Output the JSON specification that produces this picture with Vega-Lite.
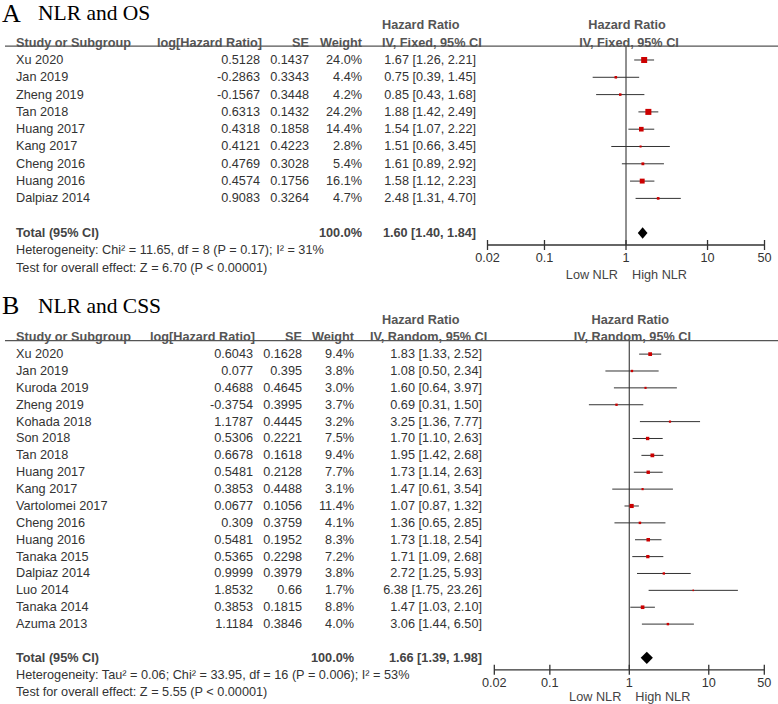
{
"$schema": "https://vega.github.io/schema/vega-lite/v6.json",
"padding": 0,
"spacing": 8,
"bounds": "full",
"config": {"view": {"stroke": null}, "axis": {"disable": true}, "legend": {"disable": true}, "text": {"font": "Liberation Sans", "fontSize": 12.7, "color": "#333"}},
"datasets": {
"A_studies": [
{"study":"Xu 2020","loghr":0.5128,"se":0.1437,"weight":0.240,"hr":1.67,"lo":1.26,"hi":2.21,"ci":"1.67 [1.26, 2.21]","row":0},
{"study":"Jan 2019","loghr":-0.2863,"se":0.3343,"weight":0.044,"hr":0.75,"lo":0.39,"hi":1.45,"ci":"0.75 [0.39, 1.45]","row":1},
{"study":"Zheng 2019","loghr":-0.1567,"se":0.3448,"weight":0.042,"hr":0.85,"lo":0.43,"hi":1.68,"ci":"0.85 [0.43, 1.68]","row":2},
{"study":"Tan 2018","loghr":0.6313,"se":0.1432,"weight":0.242,"hr":1.88,"lo":1.42,"hi":2.49,"ci":"1.88 [1.42, 2.49]","row":3},
{"study":"Huang 2017","loghr":0.4318,"se":0.1858,"weight":0.144,"hr":1.54,"lo":1.07,"hi":2.22,"ci":"1.54 [1.07, 2.22]","row":4},
{"study":"Kang 2017","loghr":0.4121,"se":0.4223,"weight":0.028,"hr":1.51,"lo":0.66,"hi":3.45,"ci":"1.51 [0.66, 3.45]","row":5},
{"study":"Cheng 2016","loghr":0.4769,"se":0.3028,"weight":0.054,"hr":1.61,"lo":0.89,"hi":2.92,"ci":"1.61 [0.89, 2.92]","row":6},
{"study":"Huang 2016","loghr":0.4574,"se":0.1756,"weight":0.161,"hr":1.58,"lo":1.12,"hi":2.23,"ci":"1.58 [1.12, 2.23]","row":7},
{"study":"Dalpiaz 2014","loghr":0.9083,"se":0.3264,"weight":0.047,"hr":2.48,"lo":1.31,"hi":4.70,"ci":"2.48 [1.31, 4.70]","row":8}
],
"A_total": [{"label":"Total (95% CI)","weight":1.0,"hr":1.60,"lo":1.40,"hi":1.84,"ci":"1.60 [1.40, 1.84]","row":10}],
"A_notes": [
{"text":"Heterogeneity: Chi² = 11.65, df = 8 (P = 0.17); I² = 31%","row":11},
{"text":"Test for overall effect: Z = 6.70 (P < 0.00001)","row":12}
],
"B_studies": [
{"study":"Xu 2020","loghr":0.6043,"se":0.1628,"weight":0.094,"hr":1.83,"lo":1.33,"hi":2.52,"ci":"1.83 [1.33, 2.52]","row":0},
{"study":"Jan 2019","loghr":0.077,"se":0.395,"weight":0.038,"hr":1.08,"lo":0.50,"hi":2.34,"ci":"1.08 [0.50, 2.34]","row":1},
{"study":"Kuroda 2019","loghr":0.4688,"se":0.4645,"weight":0.030,"hr":1.60,"lo":0.64,"hi":3.97,"ci":"1.60 [0.64, 3.97]","row":2},
{"study":"Zheng 2019","loghr":-0.3754,"se":0.3995,"weight":0.037,"hr":0.69,"lo":0.31,"hi":1.50,"ci":"0.69 [0.31, 1.50]","row":3},
{"study":"Kohada 2018","loghr":1.1787,"se":0.4445,"weight":0.032,"hr":3.25,"lo":1.36,"hi":7.77,"ci":"3.25 [1.36, 7.77]","row":4},
{"study":"Son 2018","loghr":0.5306,"se":0.2221,"weight":0.075,"hr":1.70,"lo":1.10,"hi":2.63,"ci":"1.70 [1.10, 2.63]","row":5},
{"study":"Tan 2018","loghr":0.6678,"se":0.1618,"weight":0.094,"hr":1.95,"lo":1.42,"hi":2.68,"ci":"1.95 [1.42, 2.68]","row":6},
{"study":"Huang 2017","loghr":0.5481,"se":0.2128,"weight":0.077,"hr":1.73,"lo":1.14,"hi":2.63,"ci":"1.73 [1.14, 2.63]","row":7},
{"study":"Kang 2017","loghr":0.3853,"se":0.4488,"weight":0.031,"hr":1.47,"lo":0.61,"hi":3.54,"ci":"1.47 [0.61, 3.54]","row":8},
{"study":"Vartolomei 2017","loghr":0.0677,"se":0.1056,"weight":0.114,"hr":1.07,"lo":0.87,"hi":1.32,"ci":"1.07 [0.87, 1.32]","row":9},
{"study":"Cheng 2016","loghr":0.309,"se":0.3759,"weight":0.041,"hr":1.36,"lo":0.65,"hi":2.85,"ci":"1.36 [0.65, 2.85]","row":10},
{"study":"Huang 2016","loghr":0.5481,"se":0.1952,"weight":0.083,"hr":1.73,"lo":1.18,"hi":2.54,"ci":"1.73 [1.18, 2.54]","row":11},
{"study":"Tanaka 2015","loghr":0.5365,"se":0.2298,"weight":0.072,"hr":1.71,"lo":1.09,"hi":2.68,"ci":"1.71 [1.09, 2.68]","row":12},
{"study":"Dalpiaz 2014","loghr":0.9999,"se":0.3979,"weight":0.038,"hr":2.72,"lo":1.25,"hi":5.93,"ci":"2.72 [1.25, 5.93]","row":13},
{"study":"Luo 2014","loghr":1.8532,"se":0.66,"weight":0.017,"hr":6.38,"lo":1.75,"hi":23.26,"ci":"6.38 [1.75, 23.26]","row":14},
{"study":"Tanaka 2014","loghr":0.3853,"se":0.1815,"weight":0.088,"hr":1.47,"lo":1.03,"hi":2.10,"ci":"1.47 [1.03, 2.10]","row":15},
{"study":"Azuma 2013","loghr":1.1184,"se":0.3846,"weight":0.040,"hr":3.06,"lo":1.44,"hi":6.50,"ci":"3.06 [1.44, 6.50]","row":16}
],
"B_total": [{"label":"Total (95% CI)","weight":1.0,"hr":1.66,"lo":1.39,"hi":1.98,"ci":"1.66 [1.39, 1.98]","row":18}],
"B_notes": [
{"text":"Heterogeneity: Tau² = 0.06; Chi² = 33.95, df = 16 (P = 0.006); I² = 53%","row":19},
{"text":"Test for overall effect: Z = 5.55 (P < 0.00001)","row":20}
],
"ticks": [{"t":0.02,"lab":"0.02"},{"t":0.1,"lab":"0.1"},{"t":1,"lab":"1"},{"t":10,"lab":"10"},{"t":50,"lab":"50"}]
},
"vconcat": [
{"spacing": 0, "bounds": "flush", "hconcat": [
 {"width": 150, "height": 245, "layer": [
  {"data":{"values":[{}]},"mark":{"type":"rule","color":"#555","strokeWidth":1.2},"encoding":{"x":{"datum":0.0333,"type":"quantitative","scale":{"domain":[0,1],"nice":false,"zero":false}},"x2":{"datum":1},"y":{"datum":-0.8,"type":"quantitative","scale":{"domain":[-3.468,10.694],"reverse":true,"nice":false,"zero":false}}}},
  {"data":{"values":[{}]},"mark":{"type":"text","font":"Liberation Serif","fontSize":26,"color":"#000","align":"left","baseline":"alphabetic","dx":2},"encoding":{"x":{"datum":0,"type":"quantitative","scale":{"domain":[0,1],"nice":false,"zero":false}},"y":{"datum":-2.225,"type":"quantitative","scale":{"domain":[-3.468,10.694],"reverse":true,"nice":false,"zero":false}},"text":{"value":"A"}}},
  {"data":{"values":[{}]},"mark":{"type":"text","font":"Liberation Serif","fontSize":21.5,"color":"#000","align":"left","baseline":"alphabetic","dx":38},"encoding":{"x":{"datum":0,"type":"quantitative","scale":{"domain":[0,1],"nice":false,"zero":false}},"y":{"datum":-2.3,"type":"quantitative","scale":{"domain":[-3.468,10.694],"reverse":true,"nice":false,"zero":false}},"text":{"value":"NLR and OS"}}},
  {"data":{"values":[{}]},"mark":{"type":"text","fontWeight":"bold","color":"#555","align":"left","dx":16},"encoding":{"x":{"datum":0,"type":"quantitative","scale":{"domain":[0,1],"nice":false,"zero":false}},"y":{"datum":-1,"type":"quantitative","scale":{"domain":[-3.468,10.694],"reverse":true,"nice":false,"zero":false}},"text":{"value":"Study or Subgroup"}}},
  {"data":{"name":"A_studies"},"mark":{"type":"text","align":"left","dx":16},"encoding":{"x":{"datum":0,"type":"quantitative","scale":{"domain":[0,1],"nice":false,"zero":false}},"y":{"field":"row","type":"quantitative","scale":{"domain":[-3.468,10.694],"reverse":true,"nice":false,"zero":false}},"text":{"field":"study","type":"nominal"}}},
  {"data":{"name":"A_total"},"mark":{"type":"text","align":"left","dx":16,"fontWeight":"bold","color":"#444"},"encoding":{"x":{"datum":0,"type":"quantitative","scale":{"domain":[0,1],"nice":false,"zero":false}},"y":{"field":"row","type":"quantitative","scale":{"domain":[-3.468,10.694],"reverse":true,"nice":false,"zero":false}},"text":{"field":"label","type":"nominal"}}},
  {"data":{"name":"A_notes"},"mark":{"type":"text","align":"left","dx":16},"encoding":{"x":{"datum":0,"type":"quantitative","scale":{"domain":[0,1],"nice":false,"zero":false}},"y":{"field":"row","type":"quantitative","scale":{"domain":[-3.468,10.694],"reverse":true,"nice":false,"zero":false}},"text":{"field":"text","type":"nominal"}}}
 ]},
 {"width": 110, "height": 245, "layer": [
  {"data":{"values":[{}]},"mark":{"type":"rule","color":"#555","strokeWidth":1.2},"encoding":{"x":{"datum":0,"type":"quantitative","scale":{"domain":[0,1],"nice":false,"zero":false}},"x2":{"datum":1},"y":{"datum":-0.8,"type":"quantitative","scale":{"domain":[-3.468,10.694],"reverse":true,"nice":false,"zero":false}}}},
  {"data":{"values":[{}]},"mark":{"type":"text","fontWeight":"bold","color":"#555","align":"right","dx":2},"encoding":{"x":{"datum":1,"type":"quantitative","scale":{"domain":[0,1],"nice":false,"zero":false}},"y":{"datum":-1,"type":"quantitative","scale":{"domain":[-3.468,10.694],"reverse":true,"nice":false,"zero":false}},"text":{"value":"log[Hazard Ratio]"}}},
  {"data":{"name":"A_studies"},"mark":{"type":"text","align":"right"},"encoding":{"x":{"datum":1,"type":"quantitative","scale":{"domain":[0,1],"nice":false,"zero":false}},"y":{"field":"row","type":"quantitative","scale":{"domain":[-3.468,10.694],"reverse":true,"nice":false,"zero":false}},"text":{"field":"loghr","type":"nominal"}}}
 ]},
 {"width": 49, "height": 245, "layer": [
  {"data":{"values":[{}]},"mark":{"type":"rule","color":"#555","strokeWidth":1.2},"encoding":{"x":{"datum":0,"type":"quantitative","scale":{"domain":[0,1],"nice":false,"zero":false}},"x2":{"datum":1},"y":{"datum":-0.8,"type":"quantitative","scale":{"domain":[-3.468,10.694],"reverse":true,"nice":false,"zero":false}}}},
  {"data":{"values":[{}]},"mark":{"type":"text","fontWeight":"bold","color":"#555","align":"right"},"encoding":{"x":{"datum":1,"type":"quantitative","scale":{"domain":[0,1],"nice":false,"zero":false}},"y":{"datum":-1,"type":"quantitative","scale":{"domain":[-3.468,10.694],"reverse":true,"nice":false,"zero":false}},"text":{"value":"SE"}}},
  {"data":{"name":"A_studies"},"mark":{"type":"text","align":"right"},"encoding":{"x":{"datum":1,"type":"quantitative","scale":{"domain":[0,1],"nice":false,"zero":false}},"y":{"field":"row","type":"quantitative","scale":{"domain":[-3.468,10.694],"reverse":true,"nice":false,"zero":false}},"text":{"field":"se","type":"nominal"}}}
 ]},
 {"width": 53, "height": 245, "layer": [
  {"data":{"values":[{}]},"mark":{"type":"rule","color":"#555","strokeWidth":1.2},"encoding":{"x":{"datum":0,"type":"quantitative","scale":{"domain":[0,1],"nice":false,"zero":false}},"x2":{"datum":1},"y":{"datum":-0.8,"type":"quantitative","scale":{"domain":[-3.468,10.694],"reverse":true,"nice":false,"zero":false}}}},
  {"data":{"values":[{}]},"mark":{"type":"text","fontWeight":"bold","color":"#555","align":"right"},"encoding":{"x":{"datum":1,"type":"quantitative","scale":{"domain":[0,1],"nice":false,"zero":false}},"y":{"datum":-1,"type":"quantitative","scale":{"domain":[-3.468,10.694],"reverse":true,"nice":false,"zero":false}},"text":{"value":"Weight"}}},
  {"data":{"name":"A_studies"},"mark":{"type":"text","align":"right"},"encoding":{"x":{"datum":1,"type":"quantitative","scale":{"domain":[0,1],"nice":false,"zero":false}},"y":{"field":"row","type":"quantitative","scale":{"domain":[-3.468,10.694],"reverse":true,"nice":false,"zero":false}},"text":{"field":"weight","type":"quantitative","format":".1%"}}},
  {"data":{"name":"A_total"},"mark":{"type":"text","align":"right","fontWeight":"bold","color":"#444"},"encoding":{"x":{"datum":1,"type":"quantitative","scale":{"domain":[0,1],"nice":false,"zero":false}},"y":{"field":"row","type":"quantitative","scale":{"domain":[-3.468,10.694],"reverse":true,"nice":false,"zero":false}},"text":{"field":"weight","type":"quantitative","format":".1%"}}}
 ]},
 {"width": 114, "height": 245, "layer": [
  {"data":{"values":[{}]},"mark":{"type":"rule","color":"#555","strokeWidth":1.2},"encoding":{"x":{"datum":0,"type":"quantitative","scale":{"domain":[0,1],"nice":false,"zero":false}},"x2":{"datum":1},"y":{"datum":-0.8,"type":"quantitative","scale":{"domain":[-3.468,10.694],"reverse":true,"nice":false,"zero":false}}}},
  {"data":{"values":[{}]},"mark":{"type":"text","fontWeight":"bold","color":"#555","align":"left","dx":20},"encoding":{"x":{"datum":0,"type":"quantitative","scale":{"domain":[0,1],"nice":false,"zero":false}},"y":{"datum":-2,"type":"quantitative","scale":{"domain":[-3.468,10.694],"reverse":true,"nice":false,"zero":false}},"text":{"value":"Hazard Ratio"}}},
  {"data":{"values":[{}]},"mark":{"type":"text","fontWeight":"bold","color":"#555","align":"left","dx":20},"encoding":{"x":{"datum":0,"type":"quantitative","scale":{"domain":[0,1],"nice":false,"zero":false}},"y":{"datum":-1,"type":"quantitative","scale":{"domain":[-3.468,10.694],"reverse":true,"nice":false,"zero":false}},"text":{"value":"IV, Fixed, 95% CI"}}},
  {"data":{"name":"A_studies"},"mark":{"type":"text","align":"right"},"encoding":{"x":{"datum":1,"type":"quantitative","scale":{"domain":[0,1],"nice":false,"zero":false}},"y":{"field":"row","type":"quantitative","scale":{"domain":[-3.468,10.694],"reverse":true,"nice":false,"zero":false}},"text":{"field":"ci","type":"nominal"}}},
  {"data":{"name":"A_total"},"mark":{"type":"text","align":"right","fontWeight":"bold","color":"#444"},"encoding":{"x":{"datum":1,"type":"quantitative","scale":{"domain":[0,1],"nice":false,"zero":false}},"y":{"field":"row","type":"quantitative","scale":{"domain":[-3.468,10.694],"reverse":true,"nice":false,"zero":false}},"text":{"field":"ci","type":"nominal"}}}
 ]},
 {"width": 302, "height": 245, "layer": [
  {"data":{"values":[{}]},"mark":{"type":"rule","color":"#555","strokeWidth":1.2},"encoding":{"x":{"datum":0.014453,"type":"quantitative","scale":{"type":"log","domain":[0.014453,73.18],"nice":false}},"x2":{"datum":73.18},"y":{"datum":-0.8,"type":"quantitative","scale":{"domain":[-3.468,10.694],"reverse":true,"nice":false,"zero":false}}}},
  {"data":{"values":[{}]},"mark":{"type":"rule","color":"#555","strokeWidth":1.3},"encoding":{"x":{"datum":1,"type":"quantitative","scale":{"type":"log","domain":[0.014453,73.18],"nice":false}},"y":{"datum":-0.8,"type":"quantitative","scale":{"domain":[-3.468,10.694],"reverse":true,"nice":false,"zero":false}},"y2":{"datum":10.694}}},
  {"data":{"values":[{}]},"mark":{"type":"text","fontWeight":"bold","color":"#555","align":"center","dx":1},"encoding":{"x":{"datum":1,"type":"quantitative","scale":{"type":"log","domain":[0.014453,73.18],"nice":false}},"y":{"datum":-2,"type":"quantitative","scale":{"domain":[-3.468,10.694],"reverse":true,"nice":false,"zero":false}},"text":{"value":"Hazard Ratio"}}},
  {"data":{"values":[{}]},"mark":{"type":"text","fontWeight":"bold","color":"#555","align":"center","dx":3},"encoding":{"x":{"datum":1,"type":"quantitative","scale":{"type":"log","domain":[0.014453,73.18],"nice":false}},"y":{"datum":-1,"type":"quantitative","scale":{"domain":[-3.468,10.694],"reverse":true,"nice":false,"zero":false}},"text":{"value":"IV, Fixed, 95% CI"}}},
  {"data":{"name":"A_studies"},"mark":{"type":"rule","color":"#333","strokeWidth":1},"encoding":{"x":{"field":"lo","type":"quantitative","scale":{"type":"log","domain":[0.014453,73.18],"nice":false}},"x2":{"field":"hi"},"y":{"field":"row","type":"quantitative","scale":{"domain":[-3.468,10.694],"reverse":true,"nice":false,"zero":false}}}},
  {"data":{"name":"A_studies"},"mark":{"type":"square","color":"#cc0000","opacity":1},"encoding":{"x":{"field":"hr","type":"quantitative","scale":{"type":"log","domain":[0.014453,73.18],"nice":false}},"y":{"field":"row","type":"quantitative","scale":{"domain":[-3.468,10.694],"reverse":true,"nice":false,"zero":false}},"size":{"field":"weight","type":"quantitative","scale":{"type":"linear","domain":[0,0.25],"range":[0,37.5]},"legend":null}}},
  {"data":{"name":"A_total"},"mark":{"type":"point","shape":"M-1,0L0,-1.2L1,0L0,1.2Z","filled":true,"color":"#000","opacity":1,"size":94},"encoding":{"x":{"field":"hr","type":"quantitative","scale":{"type":"log","domain":[0.014453,73.18],"nice":false}},"y":{"field":"row","type":"quantitative","scale":{"domain":[-3.468,10.694],"reverse":true,"nice":false,"zero":false}}}},
  {"data":{"values":[{}]},"mark":{"type":"rule","color":"#333","strokeWidth":1.3},"encoding":{"x":{"datum":0.02,"type":"quantitative","scale":{"type":"log","domain":[0.014453,73.18],"nice":false}},"x2":{"datum":50},"y":{"datum":10.694,"type":"quantitative","scale":{"domain":[-3.468,10.694],"reverse":true,"nice":false,"zero":false}}}},
  {"data":{"name":"ticks"},"mark":{"type":"rule","color":"#333","strokeWidth":1.3},"encoding":{"x":{"field":"t","type":"quantitative","scale":{"type":"log","domain":[0.014453,73.18],"nice":false}},"y":{"datum":10.405,"type":"quantitative","scale":{"domain":[-3.468,10.694],"reverse":true,"nice":false,"zero":false}},"y2":{"datum":10.983}}},
  {"data":{"name":"ticks"},"mark":{"type":"text","align":"center","baseline":"top","dy":7},"encoding":{"x":{"field":"t","type":"quantitative","scale":{"type":"log","domain":[0.014453,73.18],"nice":false}},"y":{"datum":10.694,"type":"quantitative","scale":{"domain":[-3.468,10.694],"reverse":true,"nice":false,"zero":false}},"text":{"field":"lab","type":"nominal"}}},
  {"data":{"values":[{}]},"mark":{"type":"text","align":"right","dx":-8,"color":"#444"},"encoding":{"x":{"datum":1,"type":"quantitative","scale":{"type":"log","domain":[0.014453,73.18],"nice":false}},"y":{"datum":12.43,"type":"quantitative","scale":{"domain":[-3.468,10.694],"reverse":true,"nice":false,"zero":false}},"text":{"value":"Low NLR"}}},
  {"data":{"values":[{}]},"mark":{"type":"text","align":"left","dx":6,"color":"#444"},"encoding":{"x":{"datum":1,"type":"quantitative","scale":{"type":"log","domain":[0.014453,73.18],"nice":false}},"y":{"datum":12.43,"type":"quantitative","scale":{"domain":[-3.468,10.694],"reverse":true,"nice":false,"zero":false}},"text":{"value":"High NLR"}}}
 ]}
]},
{"spacing": 0, "bounds": "flush", "hconcat": [
 {"width": 150, "height": 379.8, "layer": [
  {"data":{"values":[{}]},"mark":{"type":"rule","color":"#555","strokeWidth":1.2},"encoding":{"x":{"datum":0.0333,"type":"quantitative","scale":{"domain":[0,1],"nice":false,"zero":false}},"x2":{"datum":1},"y":{"datum":-0.8,"type":"quantitative","scale":{"domain":[-3.8,18.708],"reverse":true,"nice":false,"zero":false}}}},
  {"data":{"values":[{}]},"mark":{"type":"text","font":"Liberation Serif","fontSize":26,"color":"#000","align":"left","baseline":"alphabetic","dx":2},"encoding":{"x":{"datum":0,"type":"quantitative","scale":{"domain":[0,1],"nice":false,"zero":false}},"y":{"datum":-2.39,"type":"quantitative","scale":{"domain":[-3.8,18.708],"reverse":true,"nice":false,"zero":false}},"text":{"value":"B"}}},
  {"data":{"values":[{}]},"mark":{"type":"text","font":"Liberation Serif","fontSize":21.5,"color":"#000","align":"left","baseline":"alphabetic","dx":38},"encoding":{"x":{"datum":0,"type":"quantitative","scale":{"domain":[0,1],"nice":false,"zero":false}},"y":{"datum":-2.43,"type":"quantitative","scale":{"domain":[-3.8,18.708],"reverse":true,"nice":false,"zero":false}},"text":{"value":"NLR and CSS"}}},
  {"data":{"values":[{}]},"mark":{"type":"text","fontWeight":"bold","color":"#555","align":"left","dx":16},"encoding":{"x":{"datum":0,"type":"quantitative","scale":{"domain":[0,1],"nice":false,"zero":false}},"y":{"datum":-1,"type":"quantitative","scale":{"domain":[-3.8,18.708],"reverse":true,"nice":false,"zero":false}},"text":{"value":"Study or Subgroup"}}},
  {"data":{"name":"B_studies"},"mark":{"type":"text","align":"left","dx":16},"encoding":{"x":{"datum":0,"type":"quantitative","scale":{"domain":[0,1],"nice":false,"zero":false}},"y":{"field":"row","type":"quantitative","scale":{"domain":[-3.8,18.708],"reverse":true,"nice":false,"zero":false}},"text":{"field":"study","type":"nominal"}}},
  {"data":{"name":"B_total"},"mark":{"type":"text","align":"left","dx":16,"fontWeight":"bold","color":"#444"},"encoding":{"x":{"datum":0,"type":"quantitative","scale":{"domain":[0,1],"nice":false,"zero":false}},"y":{"field":"row","type":"quantitative","scale":{"domain":[-3.8,18.708],"reverse":true,"nice":false,"zero":false}},"text":{"field":"label","type":"nominal"}}},
  {"data":{"name":"B_notes"},"mark":{"type":"text","align":"left","dx":16},"encoding":{"x":{"datum":0,"type":"quantitative","scale":{"domain":[0,1],"nice":false,"zero":false}},"y":{"field":"row","type":"quantitative","scale":{"domain":[-3.8,18.708],"reverse":true,"nice":false,"zero":false}},"text":{"field":"text","type":"nominal"}}}
 ]},
 {"width": 103, "height": 379.8, "layer": [
  {"data":{"values":[{}]},"mark":{"type":"rule","color":"#555","strokeWidth":1.2},"encoding":{"x":{"datum":0,"type":"quantitative","scale":{"domain":[0,1],"nice":false,"zero":false}},"x2":{"datum":1},"y":{"datum":-0.8,"type":"quantitative","scale":{"domain":[-3.8,18.708],"reverse":true,"nice":false,"zero":false}}}},
  {"data":{"values":[{}]},"mark":{"type":"text","fontWeight":"bold","color":"#555","align":"right","dx":2},"encoding":{"x":{"datum":1,"type":"quantitative","scale":{"domain":[0,1],"nice":false,"zero":false}},"y":{"datum":-1,"type":"quantitative","scale":{"domain":[-3.8,18.708],"reverse":true,"nice":false,"zero":false}},"text":{"value":"log[Hazard Ratio]"}}},
  {"data":{"name":"B_studies"},"mark":{"type":"text","align":"right"},"encoding":{"x":{"datum":1,"type":"quantitative","scale":{"domain":[0,1],"nice":false,"zero":false}},"y":{"field":"row","type":"quantitative","scale":{"domain":[-3.8,18.708],"reverse":true,"nice":false,"zero":false}},"text":{"field":"loghr","type":"nominal"}}}
 ]},
 {"width": 49, "height": 379.8, "layer": [
  {"data":{"values":[{}]},"mark":{"type":"rule","color":"#555","strokeWidth":1.2},"encoding":{"x":{"datum":0,"type":"quantitative","scale":{"domain":[0,1],"nice":false,"zero":false}},"x2":{"datum":1},"y":{"datum":-0.8,"type":"quantitative","scale":{"domain":[-3.8,18.708],"reverse":true,"nice":false,"zero":false}}}},
  {"data":{"values":[{}]},"mark":{"type":"text","fontWeight":"bold","color":"#555","align":"right"},"encoding":{"x":{"datum":1,"type":"quantitative","scale":{"domain":[0,1],"nice":false,"zero":false}},"y":{"datum":-1,"type":"quantitative","scale":{"domain":[-3.8,18.708],"reverse":true,"nice":false,"zero":false}},"text":{"value":"SE"}}},
  {"data":{"name":"B_studies"},"mark":{"type":"text","align":"right"},"encoding":{"x":{"datum":1,"type":"quantitative","scale":{"domain":[0,1],"nice":false,"zero":false}},"y":{"field":"row","type":"quantitative","scale":{"domain":[-3.8,18.708],"reverse":true,"nice":false,"zero":false}},"text":{"field":"se","type":"nominal"}}}
 ]},
 {"width": 52, "height": 379.8, "layer": [
  {"data":{"values":[{}]},"mark":{"type":"rule","color":"#555","strokeWidth":1.2},"encoding":{"x":{"datum":0,"type":"quantitative","scale":{"domain":[0,1],"nice":false,"zero":false}},"x2":{"datum":1},"y":{"datum":-0.8,"type":"quantitative","scale":{"domain":[-3.8,18.708],"reverse":true,"nice":false,"zero":false}}}},
  {"data":{"values":[{}]},"mark":{"type":"text","fontWeight":"bold","color":"#555","align":"right"},"encoding":{"x":{"datum":1,"type":"quantitative","scale":{"domain":[0,1],"nice":false,"zero":false}},"y":{"datum":-1,"type":"quantitative","scale":{"domain":[-3.8,18.708],"reverse":true,"nice":false,"zero":false}},"text":{"value":"Weight"}}},
  {"data":{"name":"B_studies"},"mark":{"type":"text","align":"right"},"encoding":{"x":{"datum":1,"type":"quantitative","scale":{"domain":[0,1],"nice":false,"zero":false}},"y":{"field":"row","type":"quantitative","scale":{"domain":[-3.8,18.708],"reverse":true,"nice":false,"zero":false}},"text":{"field":"weight","type":"quantitative","format":".1%"}}},
  {"data":{"name":"B_total"},"mark":{"type":"text","align":"right","fontWeight":"bold","color":"#444"},"encoding":{"x":{"datum":1,"type":"quantitative","scale":{"domain":[0,1],"nice":false,"zero":false}},"y":{"field":"row","type":"quantitative","scale":{"domain":[-3.8,18.708],"reverse":true,"nice":false,"zero":false}},"text":{"field":"weight","type":"quantitative","format":".1%"}}}
 ]},
 {"width": 128, "height": 379.8, "layer": [
  {"data":{"values":[{}]},"mark":{"type":"rule","color":"#555","strokeWidth":1.2},"encoding":{"x":{"datum":0,"type":"quantitative","scale":{"domain":[0,1],"nice":false,"zero":false}},"x2":{"datum":1},"y":{"datum":-0.8,"type":"quantitative","scale":{"domain":[-3.8,18.708],"reverse":true,"nice":false,"zero":false}}}},
  {"data":{"values":[{}]},"mark":{"type":"text","fontWeight":"bold","color":"#555","align":"left","dx":28},"encoding":{"x":{"datum":0,"type":"quantitative","scale":{"domain":[0,1],"nice":false,"zero":false}},"y":{"datum":-2,"type":"quantitative","scale":{"domain":[-3.8,18.708],"reverse":true,"nice":false,"zero":false}},"text":{"value":"Hazard Ratio"}}},
  {"data":{"values":[{}]},"mark":{"type":"text","fontWeight":"bold","color":"#555","align":"left","dx":16},"encoding":{"x":{"datum":0,"type":"quantitative","scale":{"domain":[0,1],"nice":false,"zero":false}},"y":{"datum":-1,"type":"quantitative","scale":{"domain":[-3.8,18.708],"reverse":true,"nice":false,"zero":false}},"text":{"value":"IV, Random, 95% CI"}}},
  {"data":{"name":"B_studies"},"mark":{"type":"text","align":"right"},"encoding":{"x":{"datum":1,"type":"quantitative","scale":{"domain":[0,1],"nice":false,"zero":false}},"y":{"field":"row","type":"quantitative","scale":{"domain":[-3.8,18.708],"reverse":true,"nice":false,"zero":false}},"text":{"field":"ci","type":"nominal"}}},
  {"data":{"name":"B_total"},"mark":{"type":"text","align":"right","fontWeight":"bold","color":"#444"},"encoding":{"x":{"datum":1,"type":"quantitative","scale":{"domain":[0,1],"nice":false,"zero":false}},"y":{"field":"row","type":"quantitative","scale":{"domain":[-3.8,18.708],"reverse":true,"nice":false,"zero":false}},"text":{"field":"ci","type":"nominal"}}}
 ]},
 {"width": 296, "height": 379.8, "layer": [
  {"data":{"values":[{}]},"mark":{"type":"rule","color":"#555","strokeWidth":1.2},"encoding":{"x":{"datum":0.013997,"type":"quantitative","scale":{"type":"log","domain":[0.013997,74.36],"nice":false}},"x2":{"datum":74.36},"y":{"datum":-0.8,"type":"quantitative","scale":{"domain":[-3.8,18.708],"reverse":true,"nice":false,"zero":false}}}},
  {"data":{"values":[{}]},"mark":{"type":"rule","color":"#555","strokeWidth":1.3},"encoding":{"x":{"datum":1,"type":"quantitative","scale":{"type":"log","domain":[0.013997,74.36],"nice":false}},"y":{"datum":-0.8,"type":"quantitative","scale":{"domain":[-3.8,18.708],"reverse":true,"nice":false,"zero":false}},"y2":{"datum":18.708}}},
  {"data":{"values":[{}]},"mark":{"type":"text","fontWeight":"bold","color":"#555","align":"center","dx":1},"encoding":{"x":{"datum":1,"type":"quantitative","scale":{"type":"log","domain":[0.013997,74.36],"nice":false}},"y":{"datum":-2,"type":"quantitative","scale":{"domain":[-3.8,18.708],"reverse":true,"nice":false,"zero":false}},"text":{"value":"Hazard Ratio"}}},
  {"data":{"values":[{}]},"mark":{"type":"text","fontWeight":"bold","color":"#555","align":"center","dx":3},"encoding":{"x":{"datum":1,"type":"quantitative","scale":{"type":"log","domain":[0.013997,74.36],"nice":false}},"y":{"datum":-1,"type":"quantitative","scale":{"domain":[-3.8,18.708],"reverse":true,"nice":false,"zero":false}},"text":{"value":"IV, Random, 95% CI"}}},
  {"data":{"name":"B_studies"},"mark":{"type":"rule","color":"#333","strokeWidth":1},"encoding":{"x":{"field":"lo","type":"quantitative","scale":{"type":"log","domain":[0.013997,74.36],"nice":false}},"x2":{"field":"hi"},"y":{"field":"row","type":"quantitative","scale":{"domain":[-3.8,18.708],"reverse":true,"nice":false,"zero":false}}}},
  {"data":{"name":"B_studies"},"mark":{"type":"square","color":"#cc0000","opacity":1},"encoding":{"x":{"field":"hr","type":"quantitative","scale":{"type":"log","domain":[0.013997,74.36],"nice":false}},"y":{"field":"row","type":"quantitative","scale":{"domain":[-3.8,18.708],"reverse":true,"nice":false,"zero":false}},"size":{"field":"weight","type":"quantitative","scale":{"type":"linear","domain":[0,0.12],"range":[0,20.4]},"legend":null}}},
  {"data":{"name":"B_total"},"mark":{"type":"point","shape":"M-1,0L0,-1L1,0L0,1Z","filled":true,"color":"#000","opacity":1,"size":149},"encoding":{"x":{"field":"hr","type":"quantitative","scale":{"type":"log","domain":[0.013997,74.36],"nice":false}},"y":{"field":"row","type":"quantitative","scale":{"domain":[-3.8,18.708],"reverse":true,"nice":false,"zero":false}}}},
  {"data":{"values":[{}]},"mark":{"type":"rule","color":"#333","strokeWidth":1.3},"encoding":{"x":{"datum":0.02,"type":"quantitative","scale":{"type":"log","domain":[0.013997,74.36],"nice":false}},"x2":{"datum":50},"y":{"datum":18.708,"type":"quantitative","scale":{"domain":[-3.8,18.708],"reverse":true,"nice":false,"zero":false}}}},
  {"data":{"name":"ticks"},"mark":{"type":"rule","color":"#333","strokeWidth":1.3},"encoding":{"x":{"field":"t","type":"quantitative","scale":{"type":"log","domain":[0.013997,74.36],"nice":false}},"y":{"datum":18.412,"type":"quantitative","scale":{"domain":[-3.8,18.708],"reverse":true,"nice":false,"zero":false}},"y2":{"datum":19.004}}},
  {"data":{"name":"ticks"},"mark":{"type":"text","align":"center","baseline":"top","dy":7},"encoding":{"x":{"field":"t","type":"quantitative","scale":{"type":"log","domain":[0.013997,74.36],"nice":false}},"y":{"datum":18.708,"type":"quantitative","scale":{"domain":[-3.8,18.708],"reverse":true,"nice":false,"zero":false}},"text":{"field":"lab","type":"nominal"}}},
  {"data":{"values":[{}]},"mark":{"type":"text","align":"right","dx":-8,"color":"#444"},"encoding":{"x":{"datum":1,"type":"quantitative","scale":{"type":"log","domain":[0.013997,74.36],"nice":false}},"y":{"datum":20.3,"type":"quantitative","scale":{"domain":[-3.8,18.708],"reverse":true,"nice":false,"zero":false}},"text":{"value":"Low NLR"}}},
  {"data":{"values":[{}]},"mark":{"type":"text","align":"left","dx":6,"color":"#444"},"encoding":{"x":{"datum":1,"type":"quantitative","scale":{"type":"log","domain":[0.013997,74.36],"nice":false}},"y":{"datum":20.3,"type":"quantitative","scale":{"domain":[-3.8,18.708],"reverse":true,"nice":false,"zero":false}},"text":{"value":"High NLR"}}}
 ]}
]}
]
}
